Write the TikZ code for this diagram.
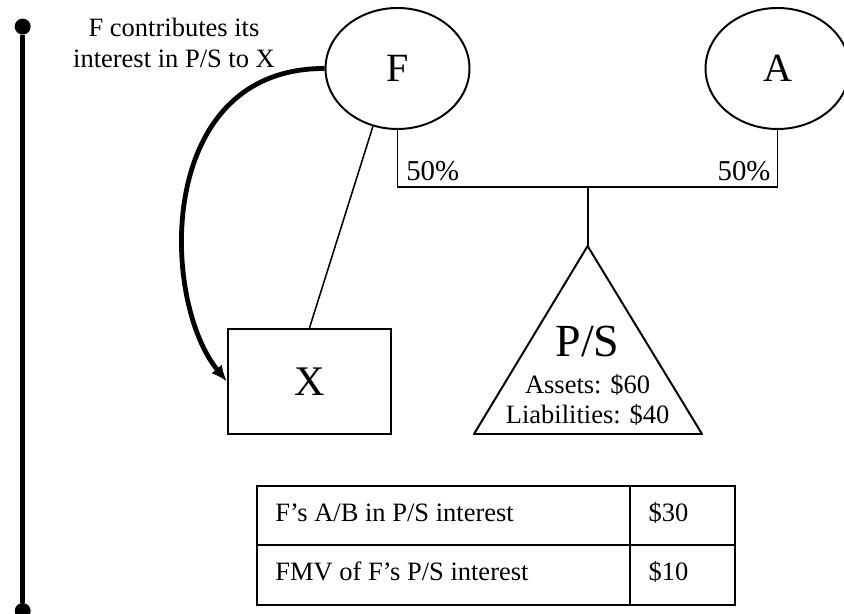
\documentclass[tikz,border=0pt]{standalone}
\usepackage{fontspec}
\setmainfont{Liberation Serif}
\usepackage{tikz}
\usetikzlibrary{shapes.geometric, arrows.meta, positioning}
\usepackage{tkz-euclide}

\begin{document}
\begin{tikzpicture}[>={Latex[length=0.4cm,width=0.34cm]},
  party/.style={draw, ellipse, line width=1.4pt, minimum width=3.6cm,
    minimum height=3.025cm, font=\fontsize{28.5}{30}\selectfont},
  small/.style={inner sep=0pt, font=\fontsize{18.85}{22}\selectfont},
  pct/.style={inner sep=0pt, font=\fontsize{20.5}{22}\selectfont},
  dot/.style={circle, fill, inner sep=0pt, minimum size=0.4cm}]
\useasboundingbox (0,0) rectangle (21.1,15.325);

% time line
\node[dot] (top) at (0.5675,14.66) {};
\node[dot] (bot) at (0.5675,0.05) {};
\draw[line width=0.13cm] (top) -- (bot);

\node[small, align=center, anchor=north] (note) at (4.35,14.88)
  {F contributes its\\interest in P/S to X};

% partners
\node[party] (F) at (9.9375,13.6125) {F};
\node[party] (A) at (19.4375,13.6125) {A};

\coordinate (join) at (14.69,10.65);
\foreach \p in {F,A}
{
  \draw[line width=1.4pt] (\p.south) |- (join);
}
\node[pct, anchor=base west] (pF) at (10.15,10.81) {50\%};
\node[pct, anchor=base east] (pA) at (19.2675,10.81) {50\%};

% partnership
\tkzDefPoints{11.85/4.475/L, 17.55/4.475/R, 14.69/9.175/T}
\tkzDrawPolygon[line width=1.4pt](L,R,T)
\draw[line width=1.4pt] (join) -- (T);
\node[small, anchor=base, font=\fontsize{32.7}{34}\selectfont] (ps) at (14.69,6.4075) {P/S};
\node[small, anchor=base] (assets) at (14.69,5.4925) {Assets: \$60};
\node[small, anchor=base] (liab) at (14.69,4.725) {Liabilities: \$40};

% corporation
\node[draw, line width=1.6pt, minimum width=4.075cm, minimum height=2.625cm,
  font=\fontsize{30}{32}\selectfont] (X) at (7.7375,5.7875) {X};
\draw[line width=1.1pt] (X.north) -- (F.247);
\draw[->, line width=0.12cm] (F.west) .. controls (3.875,13.625) and (4.0,7.825) .. (X.west);

% basis table
\draw[line width=2.1pt] (6.425,0.2) rectangle (18.375,3.175);
\draw[line width=2.1pt] (6.425,1.7) -- (18.375,1.7);
\draw[line width=2.1pt] (15.75,0.2) -- (15.75,3.175);
\node[small, anchor=base west] (ab) at (6.875,2.28) {F’s A/B in P/S interest};
\node[small, anchor=base west] (fmv) at (6.875,0.8125) {FMV of F’s P/S interest};
\node[small, anchor=base west] (abv) at (16.21,2.28) {\$30};
\node[small, anchor=base west] (fmvv) at (16.21,0.8125) {\$10};

\end{tikzpicture}
\end{document}
